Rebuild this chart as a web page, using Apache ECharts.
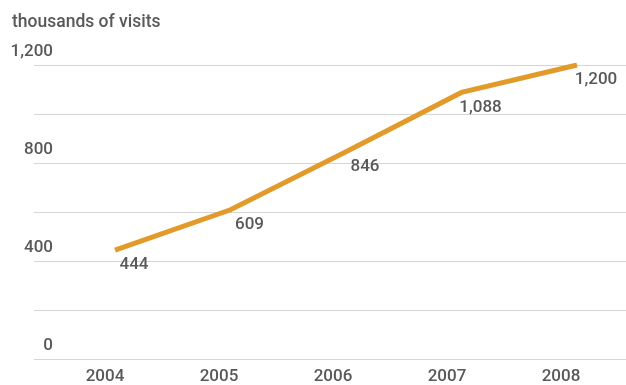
<!DOCTYPE html>
<html>
<head>
<meta charset="utf-8">
<script src="https://cdn.jsdelivr.net/npm/echarts@6/dist/echarts.min.js"></script>
<style>
html,body{margin:0;padding:0;background:#fff;}
#chart{width:626px;height:385px;}
</style>
</head>
<body>
<div id="chart"></div>
<script>
const years = ['2004', '2005', '2006', '2007', '2008'];
const visits = [444, 609, 846, 1088, 1200];
const yTickLabels = [0, 400, 800, 1200];
const unitTitle = 'thousands of visits';

const FONT = 'Roboto';
const FW = 500;
const TXT = '#585858';
const LINE = '#e29b2a';
const GRIDC = '#d6d6d6';

const chart = echarts.init(document.getElementById('chart'), null, {renderer: 'canvas'});
const fmt = v => v.toLocaleString('en-US');

chart.setOption({
  animation: false,
  title: {
    text: unitTitle, left: 7, top: 9,
    textStyle: {fontFamily: FONT, fontSize: 17.5, fontWeight: FW, color: TXT}
  },
  grid: [
    {left: 34, right: 0, top: 65, bottom: 26},
    {left: 115, right: 49, top: 65, bottom: 26},
    {left: 48, right: 8, top: 65, bottom: 26},
    {left: 53, right: 0, top: 65, bottom: 26}
  ],
  xAxis: [
    {gridIndex: 0, type: 'category', data: years, show: false},
    {gridIndex: 1, type: 'category', data: years, boundaryGap: false, show: false},
    {gridIndex: 2, type: 'category', data: years, boundaryGap: true,
     axisLine: {show: false}, axisTick: {show: false}, splitLine: {show: false},
     axisLabel: {fontFamily: FONT, fontSize: 17, fontWeight: FW, color: TXT, margin: 9}},
    {gridIndex: 3, type: 'category', data: years, show: false}
  ],
  yAxis: [
    {gridIndex: 0, type: 'value', min: 0, max: 1200, interval: 200,
     axisLine: {show: false}, axisTick: {show: false}, axisLabel: {show: false},
     splitLine: {show: true, lineStyle: {color: GRIDC, width: 1}}},
    {gridIndex: 1, type: 'value', min: 0, max: 1200, interval: 200, show: false},
    {gridIndex: 2, type: 'value', min: 0, max: 1200, interval: 200, show: false},
    {gridIndex: 3, type: 'value', min: 0, max: 1200, interval: 200,
     axisLine: {show: false}, axisTick: {show: false}, splitLine: {show: false},
     axisLabel: {
       margin: 0, fontFamily: FONT, fontSize: 17, fontWeight: FW, color: TXT,
       verticalAlign: 'bottom', lineHeight: 17, padding: [0, 0, 5, 0],
       formatter: v => yTickLabels.includes(v) ? fmt(v) : ''
     }}
  ],
  series: [{
    type: 'line',
    xAxisIndex: 1, yAxisIndex: 1,
    data: visits,
    symbol: 'circle', symbolSize: 1,
    itemStyle: {color: LINE, opacity: 0},
    lineStyle: {color: LINE, width: 5, cap: 'butt', join: 'miter'},
    label: {
      show: true, position: 'inside', align: 'center', verticalAlign: 'middle',
      offset: [19, 15], opacity: 1,
      fontFamily: FONT, fontSize: 17, fontWeight: FW, color: TXT,
      formatter: p => fmt(p.value)
    },
    emphasis: {disabled: true},
    silent: true
  }]
});
</script>
</body>
</html>
